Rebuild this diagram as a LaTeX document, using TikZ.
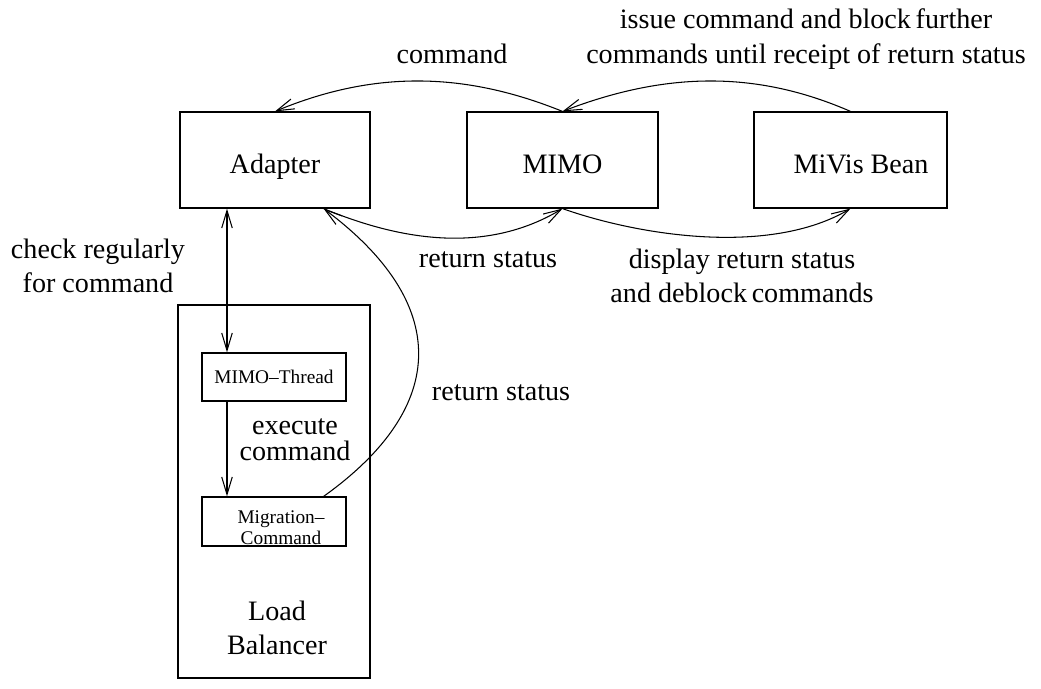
\documentclass[tikz,border=0pt]{standalone}
\usepackage{fontspec}
\setmainfont{Liberation Serif}
\usetikzlibrary{arrows.meta,calc}

\begin{document}
\begin{tikzpicture}[x=0.02cm, y=-0.02cm,
  unit/.style={draw, line width=0.7pt, inner sep=0pt, text height=16pt, text depth=1pt, font=\fontsize{16}{19}\selectfont},
  subunit/.style={draw, line width=0.7pt, inner sep=0pt, minimum width=2.88cm, font=\fontsize{11}{12}\selectfont},
  lbl/.style={font=\fontsize{16}{19}\selectfont, align=center, inner sep=0pt},
  flow/.style={line width=0.6pt, -{Straight Barb[length=10pt,width=6pt]}},
]
\useasboundingbox (0,0) rectangle (1041,689);
% the three top units
\node[unit, minimum width=3.8cm,  minimum height=1.92cm] (adapter) at (275,160) {Adapter};
\node[unit, minimum width=3.82cm, minimum height=1.92cm] (mimo)    at (562.5,160) {MIMO\hspace{9pt}};
\node[unit, minimum width=3.86cm, minimum height=1.92cm] (mivis)   at (850.5,160) {\hspace{12pt}MiVis Bean};
% load balancer with its two parts
\node[draw, line width=0.7pt, minimum width=3.84cm, minimum height=7.46cm] (balancer) at (274,491.5) {};
\node[lbl] (baltext) at (277,628) {Load\\Balancer};
\node[subunit, minimum height=0.96cm] (thread) at (274,377) {MIMO--Thread};
\node[subunit, minimum height=0.98cm] (migr) at (274,521.5) {};
\node[font=\fontsize{11}{12}\selectfont, align=center, inner sep=0pt] (migrtext) at (281,528) {Migration--\\Command};

\coordinate (chk) at (227,0);
\coordinate (adapterret) at ($(adapter.south east)+(-47,0)$);
\coordinate (migout) at ($(migr.north east)+(-23,0)$);

% connectors
\draw[flow] (mimo.north) .. controls (465,72) and (375,70) .. (adapter.north);
\draw[flow] (mivis.north) .. controls (760,72) and (670,70) .. (mimo.north);
\draw[flow] (adapterret) .. controls (390,236) and (480,258) .. (mimo.south);
\draw[flow] (mimo.south) .. controls (640,236) and (770,256) .. (mivis.south);
\draw[flow] (migout) .. controls (450,406) and (450,303) .. (adapterret);
\draw[flow, {Straight Barb[length=10pt,width=6pt]}-{Straight Barb[length=10pt,width=6pt]}] (chk |- adapter.south) -- (chk |- thread.north);
\draw[flow] (chk |- thread.south) -- (chk |- migr.north);

% labels
\node[lbl, anchor=base] (lcommand) at (452,64) {command};
\node[lbl, anchor=base, font=\fontsize{16}{20.4}\selectfont] (lissue) at (806,64) {issue command and block\,further\\commands until receipt of return status};
\node[lbl] (lcheck) at (98,266) {check regularly\\for command};
\node[lbl, anchor=base] (lret) at (488,268) {return status};
\node[lbl, anchor=base] (ldisplay) at (742,302) {display return status\\and deblock\,commands};
\node[lbl, anchor=base] (lret2) at (501,400) {return status};
\node[lbl, font=\fontsize{16}{15}\selectfont] (lexec) at (295,440) {execute\\command};
\end{tikzpicture}
\end{document}
